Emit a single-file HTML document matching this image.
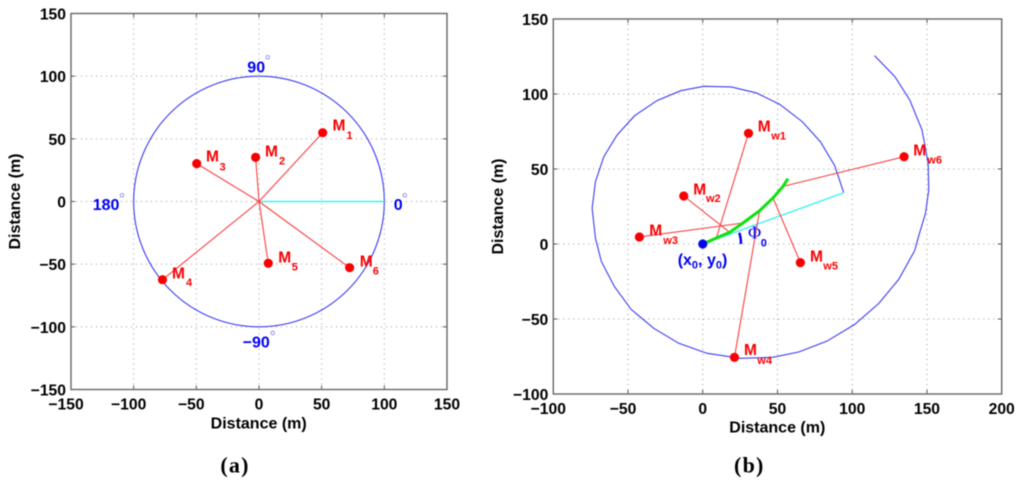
<!DOCTYPE html>
<html lang="en">
<head>
<meta charset="utf-8">
<title>Figure: distance charts (a) and (b)</title>
<style>
html,body{margin:0;padding:0;background:#fff;width:1024px;height:485px;overflow:hidden}
svg{display:block;filter:blur(0.4px)}
text{font-family:"Liberation Sans",sans-serif;font-weight:bold}
.tick{font-size:15.7px;fill:#000}
.title{font-size:16px;fill:#000}
.red{font-size:15.5px;fill:#f80000}
.sub{font-size:11px;fill:#f80000}
.blue{font-size:16px;fill:#0000f0}
.cap{font-family:"Liberation Serif",serif;font-size:22px;fill:#000;letter-spacing:1.2px}
.deg{fill:none;stroke:#7a7af5;stroke-width:.8}
</style>
</head>
<body>
<svg id="figure" width="1024" height="485" viewBox="0 0 1024 485" xmlns="http://www.w3.org/2000/svg">
  <rect width="1024" height="485" fill="#fff"/>
  <g id="chart-a"></g>
  <g id="chart-b"></g>

  <g>
    <text class="red" x="332.5" y="130.7">M</text><text class="sub" x="346.5" y="139">1</text>
    <text class="red" x="265" y="156.7">M</text><text class="sub" x="279" y="164.5">2</text>
    <text class="red" x="206" y="161.7">M</text><text class="sub" x="219.5" y="170.5">3</text>
    <text class="red" x="172" y="278.3">M</text><text class="sub" x="186" y="286">4</text>
    <text class="red" x="278.3" y="262.3">M</text><text class="sub" x="291.7" y="270.5">5</text>
    <text class="red" x="359.7" y="266.7">M</text><text class="sub" x="372.7" y="274.3">6</text>

    <text class="blue" x="247.3" y="72.3">90</text>
    <circle class="deg" cx="267.7" cy="57.3" r="1.8"/>
    <text class="blue" x="92.7" y="210">180</text>
    <circle class="deg" cx="122" cy="195.3" r="1.8"/>
    <text class="blue" x="393.7" y="210">0</text>
    <circle class="deg" cx="404.7" cy="195.3" r="1.8"/>
    <text class="blue" x="242.7" y="347.7">−90</text>
    <circle class="deg" cx="272.7" cy="333" r="1.8"/>

    <text class="title" x="258.7" y="428.3" text-anchor="middle">Distance (m)</text>
    <text class="title" text-anchor="middle" transform="translate(20,201.5) rotate(-90)">Distance (m)</text>
    <text class="cap" x="235" y="472.3" text-anchor="middle">(a)</text>
  </g>

  <g>
    <text class="red" x="757.7" y="131.3">M</text><text class="sub" x="771.3" y="139.3">w1</text>
    <text class="red" x="693.3" y="194.7">M</text><text class="sub" x="706" y="202">w2</text>
    <text class="red" x="649.3" y="235.7">M</text><text class="sub" x="663.3" y="244">w3</text>
    <text class="red" x="744" y="355">M</text><text class="sub" x="757.3" y="364">w4</text>
    <text class="red" x="810" y="261.7">M</text><text class="sub" x="823.3" y="269.3">w5</text>
    <text class="red" x="913.3" y="155.7">M</text><text class="sub" x="927.3" y="163.3">w6</text>

    <text class="blue" x="677.7" y="265">(x<tspan font-size="11" dy="3.5">0</tspan><tspan dy="-3.5">, y</tspan><tspan font-size="11" dy="3.5">0</tspan><tspan dy="-3.5">)</tspan></text>
    <path d="M739.3 232.7Q741 238 741 244" fill="none" stroke="#0000f0" stroke-width="2.5"/>
    <text x="748" y="238.3" fill="#0000f0" font-size="18" style="font-family:'Liberation Serif',serif;font-weight:normal">Φ</text>
    <text class="blue" style="font-size:11px" x="760.7" y="246.7">0</text>

    <text class="title" x="777.3" y="432.3" text-anchor="middle">Distance (m)</text>
    <text class="title" text-anchor="middle" transform="translate(503,206.5) rotate(-90)">Distance (m)</text>
    <text class="cap" x="749.3" y="472.3" text-anchor="middle">(b)</text>
  </g>
</svg>

<script>
// ---- chart (a) values ----
var aXTicks = [-150, -100, -50, 0, 50, 100, 150];
var aYTicks = [-150, -100, -50, 0, 50, 100, 150];
var aMarkerX = [50.8, -2.7, -49.7, -77, 7.4, 72.3];
var aMarkerY = [54.9, 35.2, 30.2, -62.4, -49.3, -52.8];
var aCircleRadius = [100];
var aHeadingX = [0, 100];
var aHeadingY = [0, 0];

// ---- chart (b) values ----
var bXTicks = [-100, -50, 0, 50, 100, 150, 200];
var bYTicks = [-100, -50, 0, 50, 100, 150];
var bSpiralX = [94.3, 88.3, 78.7, 66.5, 51.5, 35.9, 19, 0.7, -14.7, -30.6, -45.5, -57.3, -66.2, -71.8, -74, -71.8, -67.8, -59.1, -47.9, -32.8, -16, 2.9, 25.2, 46.4, 64.2, 83.2, 101.7, 117.8, 131.1, 141.8, 144, 149, 151.2, 150.8, 146.7, 138.5, 128.5, 114.9];
var bSpiralY = [34.2, 52.2, 68.2, 81.6, 93.1, 100.7, 104.7, 105.1, 102.2, 95.6, 85.6, 72.7, 58.2, 41.6, 23.8, 3.8, -11.8, -28.4, -43.6, -56.2, -66.2, -72.9, -76.2, -75.6, -72, -64.7, -53.6, -39.6, -23.6, -4.4, 3.8, 20.4, 36, 53.8, 76, 96, 111.6, 125.6];
var bPathX = [0, 9.1, 18, 26.9, 38, 47, 53.7, 57];
var bPathY = [0, 4, 7.8, 14, 22.2, 30.7, 38.4, 43.6];
var bHeadingX = [0, 94.3];
var bHeadingY = [0, 34.2];
var bMarkerX = [30.6, -12.7, -42.4, 21.2, 65.3, 134.7];
var bMarkerY = [73.8, 32, 4.7, -75.6, -12.4, 58.2];
var bFootX = [9.1, 18, 26.9, 38, 47, 53.7];
var bFootY = [4, 7.8, 14, 22.2, 30.7, 38.4];
var bOriginX = [0];
var bOriginY = [0];

var NS = 'http://www.w3.org/2000/svg';
function make(parent, tag) {
  var el = document.createElementNS(NS, tag);
  parent.appendChild(el);
  return el;
}
function scale(d0, d1, p0, p1) {
  return function (v) { return p0 + (v - d0) * (p1 - p0) / (d1 - d0); };
}
function fmt(v) { return v < 0 ? '\u2212' + Math.abs(v) : String(v); }

function drawFrame(g, xs, ys, xTicks, yTicks, box, xBase) {
  xTicks.forEach(function (t) {
    var px = xs(t);
    if (t !== xTicks[0] && t !== xTicks[xTicks.length - 1]) {
      var gl = make(g, 'line');
      
      
      gl.setAttribute('x1', px); gl.setAttribute('x2', px);
      gl.setAttribute('y1', box.top); gl.setAttribute('y2', box.bottom);
      gl.setAttribute('stroke', '#999'); gl.setAttribute('stroke-width', '1');
      gl.setAttribute('stroke-dasharray', '1 4');
      [[box.top, box.top + 4], [box.bottom, box.bottom - 4]].forEach(function (s) {
        var tk = make(g, 'line');
        
        
        tk.setAttribute('x1', px); tk.setAttribute('x2', px);
        tk.setAttribute('y1', s[0]); tk.setAttribute('y2', s[1]);
        tk.setAttribute('stroke', '#555');
      });
    }
    var lb = make(g, 'text');
    
    
    lb.setAttribute('class', 'tick');
    lb.setAttribute('text-anchor', 'middle');
    lb.setAttribute('x', px + (t < 0 ? -5 : 0));
    lb.setAttribute('y', xBase);
    lb.textContent = fmt(t);
  });
  yTicks.forEach(function (t) {
    var py = ys(t);
    if (t !== yTicks[0] && t !== yTicks[yTicks.length - 1]) {
      var gl = make(g, 'line');
      
      
      gl.setAttribute('x1', box.left); gl.setAttribute('x2', box.right);
      gl.setAttribute('y1', py); gl.setAttribute('y2', py);
      gl.setAttribute('stroke', '#999'); gl.setAttribute('stroke-width', '1');
      gl.setAttribute('stroke-dasharray', '1 4');
      [[box.left, box.left + 4], [box.right, box.right - 4]].forEach(function (s) {
        var tk = make(g, 'line');
        
        
        tk.setAttribute('x1', s[0]); tk.setAttribute('x2', s[1]);
        tk.setAttribute('y1', py); tk.setAttribute('y2', py);
        tk.setAttribute('stroke', '#555');
      });
    }
    var lb = make(g, 'text');
    
    
    lb.setAttribute('class', 'tick');
    lb.setAttribute('text-anchor', 'end');
    lb.setAttribute('x', box.left - 5);
    lb.setAttribute('y', py + 6);
    lb.textContent = fmt(t);
  });
}
function drawBox(g, box) {
  var r = make(g, 'rect');
  
  
  r.setAttribute('x', box.left); r.setAttribute('y', box.top);
  r.setAttribute('width', box.right - box.left);
  r.setAttribute('height', box.bottom - box.top);
  r.setAttribute('fill', 'none');
  r.setAttribute('stroke', '#666');
  r.setAttribute('stroke-width', '1.4');
}
function pathFrom(xArr, yArr, xs, ys) {
  return xArr.map(function (v, i) {
    return (i ? 'L' : 'M') + xs(v).toFixed(2) + ' ' + ys(yArr[i]).toFixed(2);
  }).join('');
}
function drawMarkers(g, mx, my, xs, ys, prefix, fx, fy) {
  mx.forEach(function (v, i) {
    var ln = make(g, 'line');
    
    
    ln.setAttribute('x1', xs(v)); ln.setAttribute('y1', ys(my[i]));
    ln.setAttribute('x2', xs(fx[i])); ln.setAttribute('y2', ys(fy[i]));
    ln.setAttribute('stroke', '#f84040');
    ln.setAttribute('stroke-width', '1.1');
  });
  mx.forEach(function (v, i) {
    var c = make(g, 'circle');
    
    
    c.setAttribute('cx', xs(v)); c.setAttribute('cy', ys(my[i]));
    c.setAttribute('r', '4.6');
    c.setAttribute('fill', '#f80000');
  });
}

// ---- chart (a) ----
(function () {
  var g = document.getElementById('chart-a');
  var box = { left: 71, right: 447, top: 13.5, bottom: 389.5 };
  var xs = scale(aXTicks[0], aXTicks[aXTicks.length - 1], box.left, box.right);
  var ys = scale(aYTicks[0], aYTicks[aYTicks.length - 1], box.bottom, box.top);
  drawFrame(g, xs, ys, aXTicks, aYTicks, box, 409.3);

  var circle = make(g, 'circle');
  
  
  circle.setAttribute('cx', xs(0));
  circle.setAttribute('cy', ys(0));
  circle.setAttribute('r', xs(aCircleRadius[0]) - xs(0));
  circle.setAttribute('fill', 'none');
  circle.setAttribute('stroke', '#3c3cf0');
  circle.setAttribute('stroke-width', '1.1');

  var heading = make(g, 'path');
  
  
  heading.setAttribute('d', pathFrom(aHeadingX, aHeadingY, xs, ys));
  heading.setAttribute('stroke', '#20f0f0');
  heading.setAttribute('stroke-width', '1.3');
  heading.setAttribute('fill', 'none');

  var feetX = aMarkerX.map(function () { return 0; });
  var feetY = aMarkerY.map(function () { return 0; });
  drawMarkers(g, aMarkerX, aMarkerY, xs, ys, 'm', feetX, feetY);
  drawBox(g, box);
})();

// ---- chart (b) ----
(function () {
  var g = document.getElementById('chart-b');
  var box = { left: 553.3, right: 1001.7, top: 19, bottom: 394 };
  var xs = scale(bXTicks[0], bXTicks[bXTicks.length - 1], box.left, box.right);
  var ys = scale(bYTicks[0], bYTicks[bYTicks.length - 1], box.bottom, box.top);
  drawFrame(g, xs, ys, bXTicks, bYTicks, box, 414);

  var spiral = make(g, 'path');
  
  
  spiral.setAttribute('d', pathFrom(bSpiralX, bSpiralY, xs, ys));
  spiral.setAttribute('stroke', '#3c3cf0');
  spiral.setAttribute('stroke-width', '1.1');
  spiral.setAttribute('fill', 'none');

  var heading = make(g, 'path');
  
  
  heading.setAttribute('d', pathFrom(bHeadingX, bHeadingY, xs, ys));
  heading.setAttribute('stroke', '#20f0f0');
  heading.setAttribute('stroke-width', '1.2');
  heading.setAttribute('fill', 'none');

  drawMarkers(g, bMarkerX, bMarkerY, xs, ys, 'mw', bFootX, bFootY);

  var track = make(g, 'path');
  
  
  track.setAttribute('d', pathFrom(bPathX, bPathY, xs, ys));
  track.setAttribute('stroke', '#10e010');
  track.setAttribute('stroke-width', '3');
  track.setAttribute('fill', 'none');

  var origin = make(g, 'circle');
  
  
  origin.setAttribute('cx', xs(bOriginX[0]));
  origin.setAttribute('cy', ys(bOriginY[0]));
  origin.setAttribute('r', '4.6');
  origin.setAttribute('fill', '#0808f0');
  drawBox(g, box);
})();
</script>
</body>
</html>
